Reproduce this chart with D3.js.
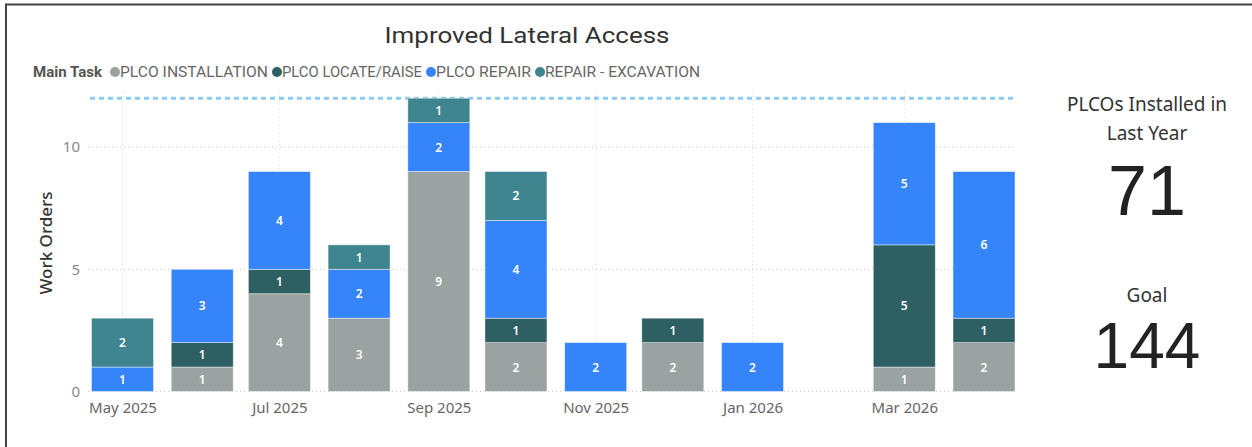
<!DOCTYPE html>
<html>
<head>
<meta charset="utf-8">
<script src="https://cdn.jsdelivr.net/npm/d3@7"></script>
<style>
  html, body { margin: 0; padding: 0; background: #ffffff; }
  svg { display: block; }
</style>
</head>
<body>
<svg id="chart" width="1252" height="447"></svg>
<script>
// ---- data ----
const months       = ["2025-05","2025-06","2025-07","2025-08","2025-09","2025-10","2025-11","2025-12","2026-01","2026-02","2026-03","2026-04"];
const installation = [0, 1, 4, 3, 9, 2, 0, 2, 0, 0, 1, 2];
const locateRaise  = [0, 1, 1, 0, 0, 1, 0, 1, 0, 0, 5, 1];
const repair       = [1, 3, 4, 2, 2, 4, 2, 0, 2, 0, 5, 6];
const excavation   = [2, 0, 0, 1, 1, 2, 0, 0, 0, 0, 0, 0];
const seriesNames  = ["PLCO INSTALLATION", "PLCO LOCATE/RAISE", "PLCO REPAIR", "REPAIR - EXCAVATION"];
const yTicks       = [0, 5, 10];
const xTickMonths  = ["2025-05","2025-07","2025-09","2025-11","2026-01","2026-03"];
const goalLine     = 12;
const chartTitle   = "Improved Lateral Access";
const legendTitle  = "Main Task";
const yAxisTitle   = "Work Orders";
const cardLabel    = ["PLCOs Installed in", "Last Year"];
const installedLastYear = 71;
const goalLabel    = "Goal";
const goalValue    = 144;

// ---- styling ----
const colors = ["#9aa3a1", "#2e5f63", "#3584f9", "#3f8590"];
const parseMonth = d3.timeParse("%Y-%m");
const svg = d3.select("#chart");

// frame edges
svg.append("line").attr("x1", 5).attr("x2", 1252).attr("y1", 4.5).attr("y2", 4.5)
  .attr("stroke", "#444").attr("stroke-width", 2);
svg.append("line").attr("x1", 6).attr("x2", 6).attr("y1", 4).attr("y2", 447)
  .attr("stroke", "#444").attr("stroke-width", 2);

// scales
const x = d3.scaleTime()
  .domain([parseMonth("2025-05"), parseMonth("2026-04")])
  .range([122.5, 984]);
const y = d3.scaleLinear().domain([0, 12]).range([391.5, 98.2]);
const barWidth = 62;
const plotLeft = 88, plotRight = 1016;

// table for stacking
const table = months.map((m, i) => ({
  date: parseMonth(m),
  [seriesNames[0]]: installation[i],
  [seriesNames[1]]: locateRaise[i],
  [seriesNames[2]]: repair[i],
  [seriesNames[3]]: excavation[i]
}));
const stacked = d3.stack().keys(seriesNames)(table);

// gridlines
const grid = svg.append("g");
grid.selectAll("line.h").data(yTicks).join("line")
  .attr("x1", plotLeft).attr("x2", plotRight)
  .attr("y1", d => y(d)).attr("y2", d => y(d))
  .attr("stroke", "#c8c8c8").attr("stroke-width", 1).attr("stroke-dasharray", "1,3");
grid.selectAll("line.v").data(xTickMonths.map(parseMonth)).join("line")
  .attr("x1", d => x(d)).attr("x2", d => x(d))
  .attr("y1", y(goalLine) - 6).attr("y2", y(0))
  .attr("stroke", "#d4d4d4").attr("stroke-width", 1).attr("stroke-dasharray", "1,3");

// goal reference line
svg.append("line")
  .attr("x1", plotLeft + 2).attr("x2", plotRight)
  .attr("y1", y(goalLine)).attr("y2", y(goalLine))
  .attr("stroke", "#8fcaf6").attr("stroke-width", 3).attr("stroke-dasharray", "5,4");

// stacked bars
const layers = svg.append("g").selectAll("g").data(stacked).join("g")
  .attr("fill", (d, i) => colors[i]);
layers.selectAll("rect").data(d => d.filter(s => s[1] - s[0] > 0)).join("rect")
  .attr("x", d => x(d.data.date) - barWidth / 2)
  .attr("width", barWidth)
  .attr("y", d => y(d[1]))
  .attr("height", d => y(d[0]) - y(d[1]))
  .attr("stroke", "#ffffff").attr("stroke-opacity", 0.55).attr("stroke-width", 0.8);

// segment value labels
const labels = svg.append("g")
  .attr("font-family", "'Segoe UI', 'Noto Sans', 'Open Sans', sans-serif")
  .attr("font-size", 12).attr("font-weight", 600).attr("fill", "#ffffff")
  .attr("text-anchor", "middle");
stacked.forEach(layer => {
  layer.forEach(s => {
    const v = s[1] - s[0];
    if (v <= 0) return;
    labels.append("text")
      .attr("x", x(s.data.date))
      .attr("y", (y(s[0]) + y(s[1])) / 2 + 4.5)
      .text(v);
  });
});

// x axis
const xAxis = svg.append("g").attr("transform", `translate(0,${y(0)})`)
  .call(d3.axisBottom(x).tickValues(xTickMonths.map(parseMonth))
    .tickFormat(d3.timeFormat("%b %Y")).tickSize(0).tickPadding(11));
xAxis.select(".domain").remove();
xAxis.selectAll("text")
  .attr("font-family", "'Segoe UI', 'Noto Sans', 'Open Sans', sans-serif")
  .attr("font-size", 15).attr("fill", "#666");

// y axis
const yAxis = svg.append("g").attr("transform", `translate(${plotLeft},0)`)
  .call(d3.axisLeft(y).tickValues(yTicks).tickSize(0).tickPadding(8));
yAxis.select(".domain").remove();
yAxis.selectAll("text")
  .attr("font-family", "'Segoe UI', 'Noto Sans', 'Open Sans', sans-serif")
  .attr("font-size", 15).attr("fill", "#888");

svg.append("text")
  .attr("transform", "translate(52,243) rotate(-90)")
  .attr("text-anchor", "middle")
  .attr("font-family", "'Segoe UI', 'Noto Sans', 'Open Sans', sans-serif")
  .attr("font-size", 17).attr("font-weight", 500).attr("fill", "#333")
  .text(yAxisTitle);

// title
svg.append("text")
  .attr("x", 527).attr("y", 43).attr("text-anchor", "middle")
  .attr("font-family", "Roboto, 'DejaVu Sans', sans-serif")
  .attr("font-size", 22).attr("fill", "#333")
  .attr("textLength", 285).attr("lengthAdjust", "spacingAndGlyphs")
  .text(chartTitle);

// legend
const legend = svg.append("g")
  .attr("font-family", "Roboto, 'Noto Sans', sans-serif")
  .attr("font-size", 14);
legend.append("text")
  .attr("x", 33).attr("y", 77)
  .attr("font-weight", 700).attr("fill", "#555")
  .attr("textLength", 69).attr("lengthAdjust", "spacingAndGlyphs")
  .text(legendTitle);
const legendWidths = [148, 140, 95, 155];
let lx = 115;
seriesNames.forEach((name, i) => {
  legend.append("circle").attr("cx", lx).attr("cy", 72).attr("r", 5).attr("fill", colors[i]);
  legend.append("text")
    .attr("x", lx + 5).attr("y", 77).attr("fill", "#666")
    .attr("textLength", legendWidths[i]).attr("lengthAdjust", "spacingAndGlyphs")
    .text(name);
  lx += 5 + legendWidths[i] + 9;
});

// summary cards
const card = svg.append("g")
  .attr("font-family", "'Segoe UI', 'Noto Sans', 'Open Sans', sans-serif")
  .attr("text-anchor", "middle");
const cx = 1147;
card.append("text").attr("x", cx).attr("y", 111).attr("font-size", 19).attr("fill", "#333").text(cardLabel[0]);
card.append("text").attr("x", cx).attr("y", 140).attr("font-size", 19).attr("fill", "#333").text(cardLabel[1]);
card.append("text").attr("x", cx).attr("y", 302).attr("font-size", 19).attr("fill", "#333").text(goalLabel);
const bigNumbers = svg.append("g")
  .attr("font-family", "'Liberation Sans', Arial, sans-serif")
  .attr("text-anchor", "middle").attr("fill", "#222");
bigNumbers.append("text").attr("x", cx).attr("y", 215).attr("font-size", 70).text(installedLastYear);
bigNumbers.append("text").attr("x", cx).attr("y", 368).attr("font-size", 64).text(goalValue);
</script>
</body>
</html>
